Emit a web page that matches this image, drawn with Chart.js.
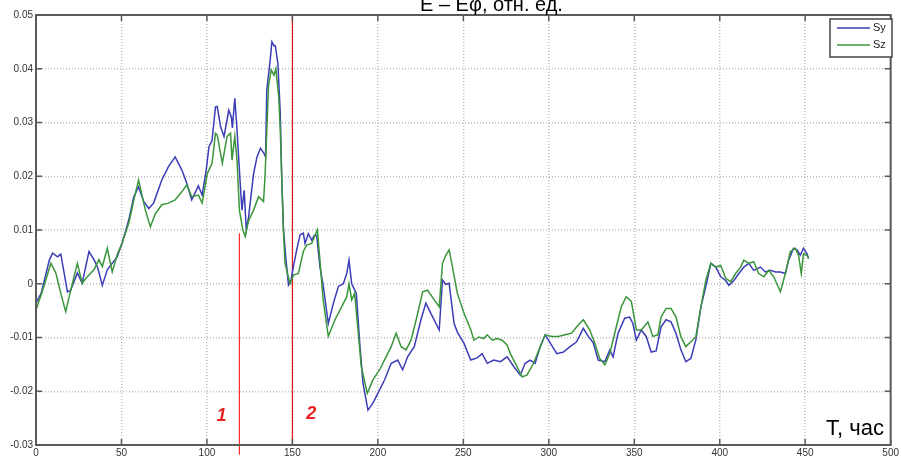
<!DOCTYPE html>
<html><head><meta charset="utf-8">
<script src="https://cdn.jsdelivr.net/npm/chart.js@4/dist/chart.umd.min.js"></script>
<style>html,body{margin:0;padding:0;background:#fff;}canvas{display:block;}</style>
</head><body>
<canvas id="c" width="901" height="459"></canvas>
<script>
const xTicks = [0,50,100,150,200,250,300,350,400,450,500];
const yTicks = [-0.03,-0.02,-0.01,0,0.01,0.02,0.03,0.04,0.05];
const yTickLabels = ["-0.03","-0.02","-0.01","0","0.01","0.02","0.03","0.04","0.05"];
const seriesNames = ["Sy","Sz"];
const syT = [0,3,7.8,9.7,12.6,14.5,18.4,20.3,24.2,27,31,33.9,35.9,38.8,41.7,44.6,47.5,50.4,54.3,57.2,60,63,66,68.8,73.6,77.5,81.4,85.3,88.2,91.1,95,97.2,99.5,101.2,103,105,106,108,110,112.8,114.3,114.9,116.3,117.6,119.6,120.5,121.8,123,124.4,127.3,129.3,131.3,133.3,134.3,135,137,138,139.2,140,141.5,142.9,143.8,144.8,146.1,147.7,149.2,150.6,152.5,154.5,156.4,157.4,159.3,161.3,162.8,164.2,166.1,168.1,171,174,176.9,179.8,181.8,183.1,184.7,187.4,189.4,191.3,194.2,197.1,200,203.9,207.8,211.6,214.5,217.4,221.3,225.2,228.1,231,235.9,237.8,239.7,241.7,244.6,246.5,250.4,254.3,258.1,261,264,267.8,271.7,275.6,279.5,283.3,286.2,289.1,292,295,297.9,300.8,304.7,308.6,312.4,316.3,320.2,323.1,326,328.9,332.8,335.7,337.6,340.5,344.4,347.3,349.2,351.2,354.1,357,359.9,362.8,365.7,368.6,371.5,374.4,377.3,380.2,383.1,386,389,391.9,394.8,397.7,400.6,403.5,405.4,408.3,411.2,414.1,417,419.9,423.8,426.7,429.7,432.6,435.5,438.4,440.3,443.2,445.2,447.1,449,451,452];
const syV = [-0.0036,-0.0018,0.0044,0.0057,0.005,0.0055,-0.0015,-0.0012,0.002,0.0001,0.006,0.0045,0.0032,-0.0003,0.0026,0.0038,0.005,0.0076,0.0119,0.0162,0.018,0.0153,0.014,0.015,0.0193,0.0218,0.0236,0.0212,0.0187,0.0156,0.0182,0.0165,0.021,0.0255,0.0267,0.0329,0.033,0.0292,0.0274,0.0323,0.031,0.029,0.0345,0.0286,0.018,0.0137,0.0174,0.01,0.0125,0.0205,0.0236,0.0252,0.0243,0.0236,0.036,0.0416,0.045,0.0443,0.0443,0.041,0.0318,0.0193,0.01,0.005,-0.0002,0.0007,0.0032,0.0063,0.0091,0.0094,0.0075,0.0093,0.0081,0.009,0.009,0.0032,-0.0005,-0.0074,-0.0036,-0.0005,0.0,0.0019,0.0044,0.0,-0.0018,-0.0111,-0.0185,-0.0235,-0.0222,-0.0204,-0.0179,-0.0148,-0.0142,-0.016,-0.0136,-0.0117,-0.0067,-0.0036,-0.0055,-0.0086,0.0007,-0.0001,0.0001,-0.0074,-0.009,-0.0111,-0.0142,-0.0138,-0.013,-0.0148,-0.0142,-0.0145,-0.0136,-0.0154,-0.017,-0.0148,-0.0142,-0.0148,-0.0117,-0.0095,-0.011,-0.013,-0.0127,-0.0117,-0.0108,-0.0083,-0.0098,-0.011,-0.0142,-0.0145,-0.0123,-0.0136,-0.0092,-0.0064,-0.0062,-0.0074,-0.0105,-0.0086,-0.0098,-0.0127,-0.0125,-0.008,-0.0067,-0.0071,-0.0092,-0.0123,-0.0145,-0.0139,-0.0105,-0.0043,-0.0005,0.0038,0.0031,0.0013,0.0006,-0.0003,0.0006,0.0019,0.0031,0.0038,0.0025,0.0031,0.0022,0.0025,0.0022,0.0022,0.0019,0.0044,0.0066,0.0063,0.0053,0.0066,0.0056,0.0047];
const szT = [0,3.9,8.7,11.6,14.5,17.4,20.3,24.2,27,30,33.9,36.8,38.8,41.7,44.6,47.5,50.4,54.3,57.2,60,64,66.9,69.8,73.6,77.5,81.4,85.3,88.2,91.1,95,97.2,100.2,103,105,106,109,111.8,113.8,114.7,116.3,117.6,119,121,122.4,124.4,127.3,130.2,133.1,134,136,137.6,139.2,140.3,142,142.9,143.8,144.8,145.7,148.6,150.6,153.5,156.4,158.3,161.3,162.8,164.6,166.1,168,171,174.9,178.8,181.8,183.1,184.7,186.4,188.4,190.3,193.8,197.1,201,204.8,207.8,210.7,213.6,216.5,219.4,222.4,226.2,229.1,233,235.9,237.8,239.7,241.7,243.6,246.5,250.4,254.3,256.2,259.1,262,264,266.9,269.8,272.7,275.6,277.5,281.4,284.3,287.2,291.1,295,297.9,301.7,305.6,309.5,313.4,316.3,320.2,324,326.9,329.8,332.8,335.7,339.5,342.4,345.3,348.3,351.2,354.1,358,360.9,363.8,365.7,368.6,371.5,374.4,377.3,380.2,383.1,386,389,391.9,394.8,397.7,400.6,403.5,406.4,409.3,412.2,414.1,417,419.9,422.8,425.8,428.7,431.6,435.5,438.4,441.3,444.2,446.1,447.7,449,451,452];
const szV = [-0.0049,-0.0012,0.0038,0.002,-0.0018,-0.0052,-0.0012,0.0038,0.0001,0.0013,0.0026,0.0045,0.0032,0.0066,0.0022,0.0054,0.0076,0.0113,0.0155,0.0193,0.0137,0.0106,0.013,0.0147,0.015,0.0156,0.0171,0.0184,0.0162,0.0165,0.015,0.0205,0.0224,0.028,0.0277,0.0224,0.0274,0.028,0.023,0.0274,0.023,0.0137,0.01,0.0088,0.0118,0.0137,0.0162,0.0153,0.02,0.0367,0.0398,0.0388,0.04,0.0348,0.0286,0.0193,0.0095,0.0038,0.0,0.0016,0.0019,0.006,0.0072,0.0075,0.0087,0.01,0.0044,-0.003,-0.0098,-0.0067,-0.0043,-0.0024,0.0,-0.003,-0.0018,-0.0086,-0.0154,-0.0204,-0.0179,-0.016,-0.0136,-0.0117,-0.0092,-0.0117,-0.0123,-0.0105,-0.0067,-0.0015,-0.0012,-0.003,-0.0043,0.0038,0.0053,0.0063,0.0032,-0.0018,-0.0055,-0.0085,-0.0105,-0.0099,-0.0102,-0.0095,-0.0105,-0.0102,-0.0105,-0.0114,-0.013,-0.0154,-0.0173,-0.017,-0.0148,-0.0117,-0.0095,-0.0098,-0.0098,-0.0095,-0.0092,-0.008,-0.0067,-0.0086,-0.011,-0.0139,-0.0151,-0.013,-0.008,-0.0043,-0.0024,-0.0033,-0.0086,-0.0086,-0.0071,-0.0098,-0.0095,-0.0062,-0.0046,-0.0046,-0.0062,-0.0099,-0.0117,-0.0108,-0.0099,-0.0043,0.0007,0.0038,0.0031,0.0034,0.001,0.0004,0.0019,0.0031,0.0044,0.0038,0.0041,0.0019,0.0013,0.0025,0.0013,-0.0015,0.0019,0.006,0.0066,0.0053,0.0019,0.0056,0.0053,0.0047];
const marker1T = [119,119];
const marker1V = [0.0094,-0.0318];
const marker2T = [150,150];
const marker2V = [0.05,-0.03];
const markerLabels = ["1","2"];
const markerLabelT = [108.5,161];
const markerLabelV = [-0.0255,-0.0252];
const titleText = "Ε – Εφ, отн. ед.";
const xAxisTitle = "T, час";

const toXY = (t, v) => t.map((x, i) => ({x: x, y: v[i]}));

const overlay = {
  id: 'overlay',
  beforeDraw(chart) {
    const ctx = chart.ctx;
    ctx.save();
    ctx.fillStyle = '#fff';
    ctx.fillRect(0, 0, chart.width, chart.height);
    ctx.restore();
  },
  afterDatasetsDraw(chart) {
    const ctx = chart.ctx, a = chart.chartArea;
    const xs = chart.scales.x, ys = chart.scales.y;
    ctx.save();
    ctx.strokeStyle = '#5a5a5a';
    ctx.lineWidth = 2;
    ctx.strokeRect(a.left, a.top, a.right - a.left, a.bottom - a.top);
    ctx.lineWidth = 1.5;
    xTicks.forEach(t => {
      const px = xs.getPixelForValue(t);
      ctx.beginPath(); ctx.moveTo(px, a.bottom); ctx.lineTo(px, a.bottom - 6); ctx.stroke();
      ctx.beginPath(); ctx.moveTo(px, a.top); ctx.lineTo(px, a.top + 6); ctx.stroke();
    });
    yTicks.forEach(t => {
      const py = ys.getPixelForValue(t);
      ctx.beginPath(); ctx.moveTo(a.left, py); ctx.lineTo(a.left + 6, py); ctx.stroke();
      ctx.beginPath(); ctx.moveTo(a.right, py); ctx.lineTo(a.right - 6, py); ctx.stroke();
    });
    ctx.fillStyle = '#000';
    ctx.font = '20px "Liberation Sans", Arial, sans-serif';
    ctx.textAlign = 'left';
    ctx.textBaseline = 'alphabetic';
    ctx.fillText(titleText, 420, 11);
    ctx.font = '22px "Liberation Sans", Arial, sans-serif';
    ctx.textAlign = 'right';
    ctx.fillText(xAxisTitle, 884, 435);
    ctx.fillStyle = '#e82020';
    ctx.font = 'italic bold 18px "Liberation Sans", Arial, sans-serif';
    ctx.textAlign = 'center';
    markerLabels.forEach((s, i) => {
      ctx.fillText(s, xs.getPixelForValue(markerLabelT[i]), ys.getPixelForValue(markerLabelV[i]));
    });
    const lx = 830, ly = 19, lw = 62, lh = 38;
    ctx.fillStyle = '#fff';
    ctx.fillRect(lx, ly, lw, lh);
    ctx.strokeStyle = '#444';
    ctx.lineWidth = 1.5;
    ctx.strokeRect(lx, ly, lw, lh);
    ctx.font = '11px "Liberation Sans", Arial, sans-serif';
    ctx.textAlign = 'left';
    ctx.textBaseline = 'middle';
    const rows = [28, 45];
    seriesNames.forEach((n, i) => {
      const ds = chart.data.datasets[i];
      ctx.strokeStyle = ds.borderColor;
      ctx.lineWidth = 1.5;
      ctx.beginPath(); ctx.moveTo(837, rows[i]); ctx.lineTo(870, rows[i]); ctx.stroke();
      ctx.fillStyle = '#222';
      ctx.fillText(n, 873, rows[i]);
    });
    ctx.restore();
  }
};

new Chart(document.getElementById('c'), {
  type: 'line',
  data: {
    datasets: [
      {label: seriesNames[0], data: toXY(syT, syV), borderColor: '#3c3cb8', borderWidth: 1.5, pointRadius: 0, tension: 0, fill: false, order: 1},
      {label: seriesNames[1], data: toXY(szT, szV), borderColor: '#3a963a', borderWidth: 1.5, pointRadius: 0, tension: 0, fill: false, order: 0},
      {label: 'm1', data: toXY(marker1T, marker1V), borderColor: '#ff2a2a', borderWidth: 1.2, pointRadius: 0, clip: false, order: 2},
      {label: 'm2', data: toXY(marker2T, marker2V), borderColor: '#e01818', borderWidth: 1.2, pointRadius: 0, clip: false, order: 2}
    ]
  },
  options: {
    responsive: false,
    animation: false,
    devicePixelRatio: 1,
    layout: {padding: {top: 15, right: 5, left: 0, bottom: 0}},
    plugins: {legend: {display: false}, tooltip: {enabled: false}, title: {display: false}},
    scales: {
      x: {
        type: 'linear', min: 0, max: 500,
        afterBuildTicks: s => { s.ticks = xTicks.map(v => ({value: v})); },
        afterFit: s => { s.height = 14; },
        grid: {color: '#bdbdbd', lineWidth: 1.5, drawTicks: false},
        border: {display: false, dash: [1, 2]},
        ticks: {padding: 2, color: '#333', font: {size: 10, family: '"Liberation Sans", Arial, sans-serif'}, maxRotation: 0, autoSkip: false, callback: v => String(v)}
      },
      y: {
        type: 'linear', min: -0.03, max: 0.05,
        afterBuildTicks: s => { s.ticks = yTicks.map(v => ({value: v})); },
        afterFit: s => { s.width = 36; },
        grid: {color: '#bdbdbd', lineWidth: 1.5, drawTicks: false},
        border: {display: false, dash: [1, 2]},
        ticks: {padding: 3, color: '#333', font: {size: 10, family: '"Liberation Sans", Arial, sans-serif'}, autoSkip: false,
          callback: (v, i) => yTickLabels[i]}
      }
    }
  },
  plugins: [overlay]
});
</script>
</body></html>
